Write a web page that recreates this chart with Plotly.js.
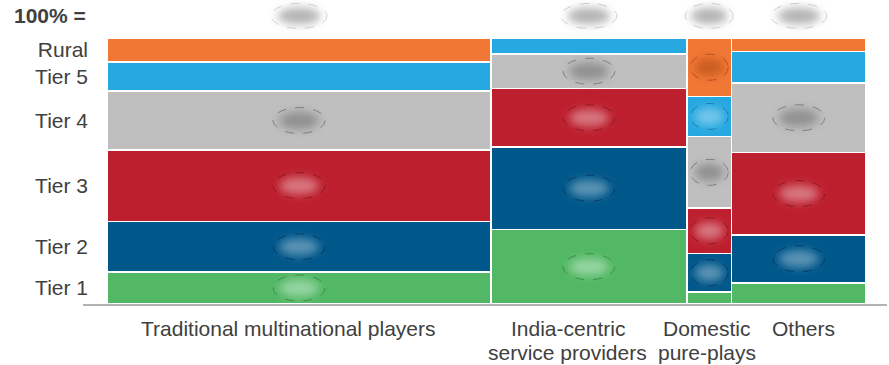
<!DOCTYPE html>
<html>
<head>
<meta charset="utf-8">
<script src="https://cdn.plot.ly/plotly-3.0.1.min.js"></script>
<style>
  html, body { margin: 0; padding: 0; background: #fff; }
  #chart { width: 889px; height: 365px; }
</style>
</head>
<body>
<div id="chart"></div>
<script>
// Provider segments (columns) and their share of the whole, in %
const categories = ['Traditional multinational players', 'India-centric<br>service providers', 'Domestic<br>pure-plays', 'Others'];
const columnShare = [50.6, 25.8, 5.9, 17.7];

// City-tier mix inside each segment, in % of the segment (bottom to top)
const tierNames = ['Tier 1', 'Tier 2', 'Tier 3', 'Tier 4', 'Tier 5', 'Rural'];
const tier1 = [12, 28, 4.5, 8];
const tier2 = [19, 31, 14.5, 18];
const tier3 = [27, 22, 17, 31];
const tier4 = [22, 13, 27, 26];
const tier5 = [11, 6, 15, 12];
const rural = [9, 0, 22, 5];
const tierValues = [tier1, tier2, tier3, tier4, tier5, rural];

// Cells whose value labels are withheld: [segment index, tier index]
const withheldCells = [
  [0, 0], [0, 1], [0, 2], [0, 3],
  [1, 0], [1, 1], [1, 2], [1, 3],
  [2, 1], [2, 2], [2, 3], [2, 4], [2, 5],
  [3, 1], [3, 2], [3, 3]
];

const tierColors = ['#52B865', '#00578A', '#BD1F2E', '#BFBFBF', '#27A8E0', '#F17735'];
const maskTint = ['rgba(255,255,255,0.38)', 'rgba(255,255,255,0.35)', 'rgba(255,255,255,0.38)',
                  'rgba(70,70,70,0.38)', 'rgba(255,255,255,0.35)', 'rgba(140,45,15,0.38)'];
const maskEdge = ['rgba(0,60,0,0.35)', 'rgba(0,20,50,0.45)', 'rgba(70,0,0,0.4)',
                  'rgba(80,80,80,0.55)', 'rgba(0,60,100,0.4)', 'rgba(120,40,0,0.45)'];

// Horizontal nudge of each segment caption (px) so neighbouring captions do not collide
const captionNudge = [-11, -21, -2, 5];

// Marimekko geometry: left edge and centre of every column on a 0-100 axis
const colLeft = [];
const colMid = [];
let acc = 0;
columnShare.forEach(w => { colLeft.push(acc); colMid.push(acc + w / 2); acc += w; });

const traces = tierValues.map((vals, t) => ({
  type: 'bar',
  name: tierNames[t],
  x: colMid,
  y: vals,
  width: columnShare,
  marker: { color: tierColors[t], line: { color: '#ffffff', width: 1.6 } },
  hoverinfo: 'skip',
  showlegend: false
}));

// Tick positions on the y axis follow the first column's segments
const yTickVals = [];
let base = 0;
tierValues.forEach(vals => { yTickVals.push(base + vals[0] / 2); base += vals[0]; });

const shapes = [];
const blurFill = [];
const blurEdge = [];

function addMask(xc, yref, yc, w, h, tint, edge) {
  blurFill.push(shapes.length);
  shapes.push({
    type: 'circle', xref: 'x', yref: yref,
    xsizemode: 'pixel', ysizemode: 'pixel',
    xanchor: xc, yanchor: yc,
    x0: -w * 0.38, x1: w * 0.38, y0: -h * 0.34, y1: h * 0.34,
    fillcolor: tint, line: { width: 0 }, layer: 'above'
  });
  blurEdge.push(shapes.length);
  shapes.push({
    type: 'circle', xref: 'x', yref: yref,
    xsizemode: 'pixel', ysizemode: 'pixel',
    xanchor: xc, yanchor: yc,
    x0: -w / 2, x1: w / 2, y0: -h / 2, y1: h / 2,
    fillcolor: 'rgba(0,0,0,0)', line: { width: 1, color: edge, dash: 'dash' }, layer: 'above'
  });
}

withheldCells.forEach(([c, t]) => {
  let lo = 0;
  for (let k = 0; k < t; k++) lo += tierValues[k][c];
  const yc = lo + tierValues[t][c] / 2;
  const w = columnShare[c] < 10 ? 38 : 52;
  addMask(colMid[c], 'y', yc, w, 26, maskTint[t], maskEdge[t]);
});

// Segment totals row ("100% =")
colMid.forEach((xc, c) => {
  addMask(xc, 'paper', 1.083, columnShare[c] < 10 ? 48 : 56, 25, 'rgba(120,120,120,0.55)', 'rgba(170,170,170,0.5)');
});

// Baseline just below the columns
shapes.push({
  type: 'line', xref: 'paper', yref: 'paper',
  x0: -0.0316, x1: 1.0277, y0: -1, y1: -1,
  ysizemode: 'pixel', yanchor: 0,
  line: { color: '#B3B3B3', width: 2 }, layer: 'above'
});

const font = { family: 'Liberation Sans, Arial, sans-serif', size: 21, color: '#404040' };

// Segment captions under the columns, one annotation per text line
const annotations = [{
  xref: 'paper', yref: 'paper', x: -0.025, y: 1.083,
  xanchor: 'right', yanchor: 'middle', showarrow: false,
  text: '<b>100% =</b>', font: font
}];
categories.forEach((label, c) => {
  label.split('<br>').forEach((line, i) => {
    annotations.push({
      xref: 'x', yref: 'paper', x: colMid[c], y: 0,
      xanchor: 'center', yanchor: 'middle',
      xshift: captionNudge[c], yshift: -24 - 24 * i,
      showarrow: false, text: line, font: font
    });
  });
});

const layout = {
  width: 889, height: 365,
  margin: { l: 107, r: 23, t: 38, b: 61, pad: 0 },
  paper_bgcolor: '#ffffff', plot_bgcolor: '#ffffff',
  barmode: 'stack', bargap: 0,
  font: font,
  xaxis: {
    range: [0, 100], fixedrange: true,
    showgrid: false, zeroline: false, showline: false, ticks: '',
    showticklabels: false
  },
  yaxis: {
    range: [0, 100], fixedrange: true,
    showgrid: false, zeroline: false, showline: false, ticks: '',
    tickvals: yTickVals, ticktext: tierNames,
    tickfont: font, ticklabelstandoff: 18
  },
  shapes: shapes,
  annotations: annotations
};

const gd = document.getElementById('chart');
Plotly.newPlot(gd, traces, layout, { staticPlot: true, displayModeBar: false }).then(() => {
  const svgNS = 'http://www.w3.org/2000/svg';
  const svg = gd.querySelector('svg.main-svg');
  let defs = svg.querySelector('defs');
  if (!defs) { defs = document.createElementNS(svgNS, 'defs'); svg.insertBefore(defs, svg.firstChild); }
  function makeBlur(id, sd) {
    const f = document.createElementNS(svgNS, 'filter');
    f.setAttribute('id', id);
    f.setAttribute('x', '-60%'); f.setAttribute('y', '-60%');
    f.setAttribute('width', '220%'); f.setAttribute('height', '220%');
    const g = document.createElementNS(svgNS, 'feGaussianBlur');
    g.setAttribute('stdDeviation', sd);
    f.appendChild(g);
    defs.appendChild(f);
  }
  makeBlur('maskBlur', 4.5);
  makeBlur('edgeBlur', 0.6);
  blurFill.forEach(i => {
    gd.querySelectorAll('.shapelayer path[data-index="' + i + '"]').forEach(p => p.setAttribute('filter', 'url(#maskBlur)'));
  });
  blurEdge.forEach(i => {
    gd.querySelectorAll('.shapelayer path[data-index="' + i + '"]').forEach(p => p.setAttribute('filter', 'url(#edgeBlur)'));
  });
});
</script>
</body>
</html>
